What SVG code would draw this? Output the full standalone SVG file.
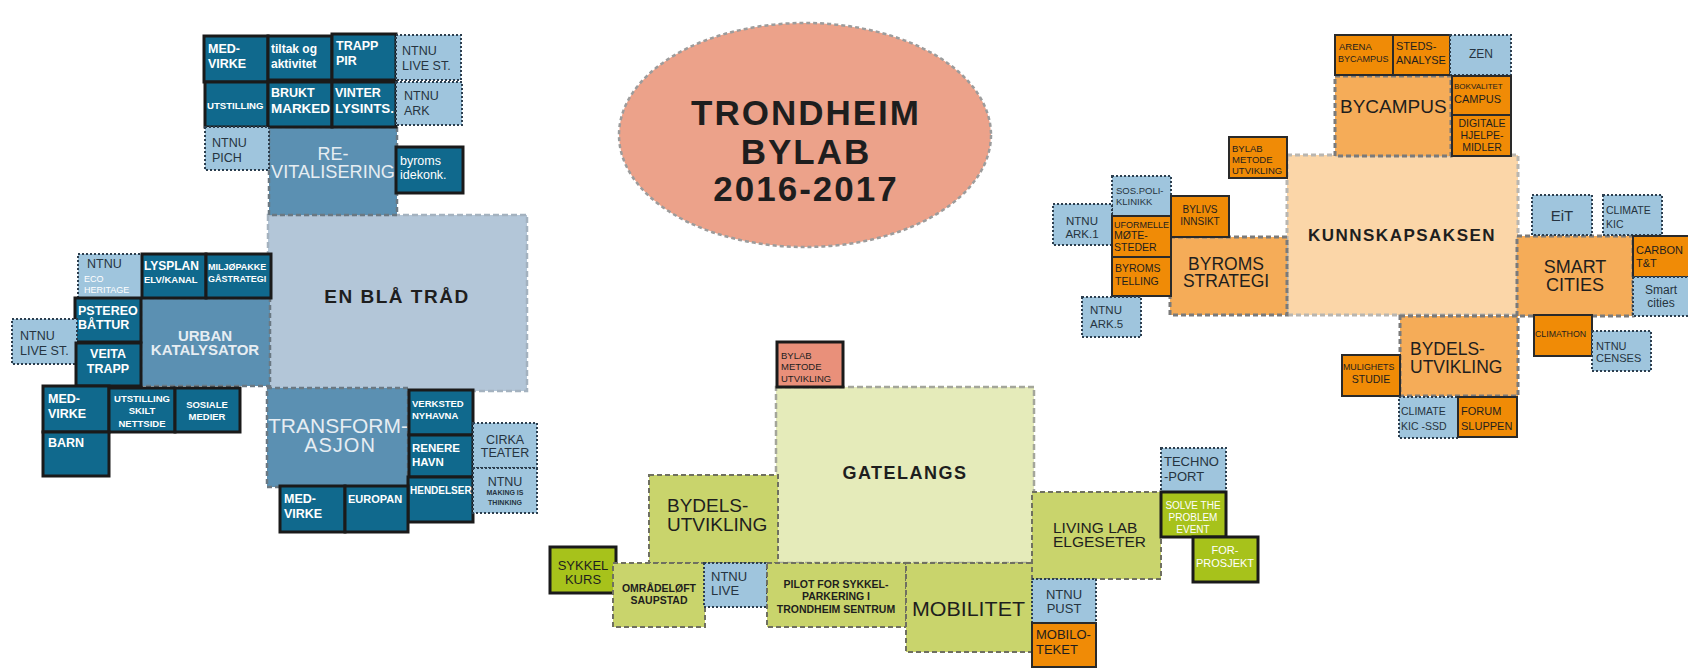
<svg xmlns="http://www.w3.org/2000/svg" width="1688" height="668" viewBox="0 0 1688 668">
<style>
text{font-family:"Liberation Sans",Arial,sans-serif;fill:#263440}
.w{fill:#ffffff}
.wm{fill:#e6edf2}
.k{fill:#1e1e1e}
.b{font-weight:700}
.c{text-anchor:middle}
.dk{fill:#10698d;stroke:#1a1a1a;stroke-width:3}
.lb{fill:#9fc5dd;stroke:#2c3e4e;stroke-width:2;stroke-dasharray:2 2}
.mb{fill:#5b90b2;stroke:#6a7882;stroke-width:2.5;stroke-dasharray:5 3}
.xb{fill:#b3c6d8;stroke:#a4b2bf;stroke-width:2.5;stroke-dasharray:6 3}
.gp{fill:#e5ebba;stroke:#a4a69a;stroke-width:2.5;stroke-dasharray:6 3}
.gm{fill:#c9d46c;stroke:#6f7060;stroke-width:2;stroke-dasharray:5 3}
.gb{fill:#a7c21b;stroke:#1a1a1a;stroke-width:3}
.os{fill:#f08b06;stroke:#2a2a2a;stroke-width:2}
.om{fill:#f5ac58;stroke:#7a7a7a;stroke-width:3;stroke-dasharray:5 3}
.op{fill:#fbd6a8;stroke:#b9b6b0;stroke-width:3;stroke-dasharray:5 3}
.sb{fill:#e9907a;stroke:#1a1a1a;stroke-width:3}
</style>

<g id="connectors"></g>

<!-- centre title -->
<g id="n-title">
<ellipse cx="805" cy="135" rx="186" ry="112" fill="#eca28a" stroke="#9c9c9c" stroke-width="2.5" stroke-dasharray="4 3"/>
<text class="c b k" x="806" y="125" font-size="35" letter-spacing="2">TRONDHEIM</text>
<text class="c b k" x="806" y="164" font-size="35" letter-spacing="2">BYLAB</text>
<text class="c b k" x="806" y="201" font-size="35" letter-spacing="2">2016-2017</text>
</g>

<!-- LEFT BLUE CLUSTER -->
<g id="n-enblatrad"><rect class="xb" x="268" y="215" width="259" height="176"/>
<text class="c b k" x="397" y="303" font-size="19" letter-spacing="1.5">EN BLÅ TRÅD</text></g>
<g id="n-revitalisering"><rect class="mb" x="269" y="127" width="128" height="88"/>
<text class="c wm" x="333" y="160" font-size="18">RE-</text>
<text class="c wm" x="333" y="178" font-size="18" textLength="124" lengthAdjust="spacingAndGlyphs">VITALISERING</text></g>
<g id="n-urban"><rect class="mb" x="141" y="298" width="129" height="88"/>
<text class="c b wm" x="205" y="341" font-size="15">URBAN</text>
<text class="c b wm" x="205" y="355" font-size="15">KATALYSATOR</text></g>
<g id="n-transform"><rect class="mb" x="267" y="388" width="141" height="99"/>
<text class="c wm" x="338" y="433" font-size="20" textLength="140" lengthAdjust="spacingAndGlyphs">TRANSFORM-</text>
<text class="c wm" x="340" y="452" font-size="20" letter-spacing="1">ASJON</text></g>

<g id="n-medvirke1"><rect class="dk" x="204" y="36" width="64" height="46"/>
<text class="b w" x="208" y="53" font-size="12.5">MED-</text><text class="b w" x="208" y="68" font-size="12.5">VIRKE</text></g>
<g id="n-tiltak"><rect class="dk" x="268" y="36" width="64" height="44"/>
<text class="b w" x="271" y="53" font-size="12">tiltak og</text><text class="b w" x="271" y="68" font-size="12">aktivitet</text></g>
<g id="n-trapppir"><rect class="dk" x="332" y="34" width="64" height="46"/>
<text class="b w" x="336" y="50" font-size="12.5">TRAPP</text><text class="b w" x="336" y="65" font-size="12.5">PIR</text></g>
<g id="n-ntnulive1"><rect class="lb" x="396" y="35" width="65" height="45"/>
<text x="402" y="55" font-size="12.5">NTNU</text><text x="402" y="70" font-size="12.5">LIVE ST.</text></g>
<g id="n-utstilling1"><rect class="dk" x="205" y="82" width="63" height="45"/>
<text class="b w" x="207" y="109" font-size="9.6">UTSTILLING</text></g>
<g id="n-brukt"><rect class="dk" x="268" y="82" width="64" height="45"/>
<text class="b w" x="271" y="97" font-size="12.5">BRUKT</text><text class="b w" x="271" y="113" font-size="12.5" textLength="59" lengthAdjust="spacingAndGlyphs">MARKED</text></g>
<g id="n-vinter"><rect class="dk" x="332" y="82" width="64" height="45"/>
<text class="b w" x="335" y="97" font-size="12.5">VINTER</text><text class="b w" x="335" y="113" font-size="12.5" textLength="59" lengthAdjust="spacingAndGlyphs">LYSINTS.</text></g>
<g id="n-ntnuark"><rect class="lb" x="396" y="82" width="66" height="43"/>
<text x="404" y="100" font-size="12.5">NTNU</text><text x="404" y="115" font-size="12.5">ARK</text></g>
<g id="n-ntnupich"><rect class="lb" x="205" y="127" width="64" height="43"/>
<text x="212" y="147" font-size="12.5">NTNU</text><text x="212" y="162" font-size="12.5">PICH</text></g>
<g id="n-byroms"><rect class="dk" x="396" y="147" width="67" height="46"/>
<text class="w" x="400" y="165" font-size="12.5">byroms</text><text class="w" x="400" y="179" font-size="12.5">idekonk.</text></g>

<g id="n-ntnueco"><rect class="lb" x="78" y="254" width="64" height="44"/>
<text x="87" y="268" font-size="12.5">NTNU</text>
<text class="w" x="84" y="282" font-size="9">ECO</text><text class="w" x="84" y="293" font-size="9">HERITAGE</text></g>
<g id="n-lysplan"><rect class="dk" x="142" y="254" width="64" height="44"/>
<text class="b w" x="144" y="270" font-size="12">LYSPLAN</text><text class="b w" x="144" y="283" font-size="9.5">ELV/KANAL</text></g>
<g id="n-miljo"><rect class="dk" x="206" y="254" width="65" height="44"/>
<text class="b w" x="208" y="270" font-size="9">MILJØPAKKE</text><text class="b w" x="208" y="282" font-size="9">GÅSTRATEGI</text></g>
<g id="n-pstereo"><rect class="dk" x="75" y="298" width="66" height="44"/>
<text class="b w" x="78" y="315" font-size="12.5">PSTEREO</text><text class="b w" x="78" y="329" font-size="12.5">BÅTTUR</text></g>
<g id="n-ntnulive2"><rect class="lb" x="12" y="319" width="65" height="45"/>
<text x="20" y="340" font-size="12.5">NTNU</text><text x="20" y="355" font-size="12.5">LIVE ST.</text></g>
<g id="n-veita"><rect class="dk" x="76" y="343" width="65" height="43"/>
<text class="c b w" x="108" y="358" font-size="12.5">VEITA</text><text class="c b w" x="108" y="373" font-size="12.5">TRAPP</text></g>
<g id="n-medvirke2"><rect class="dk" x="43" y="386" width="66" height="46"/>
<text class="b w" x="48" y="403" font-size="12.5">MED-</text><text class="b w" x="48" y="418" font-size="12.5">VIRKE</text></g>
<g id="n-utstilling2"><rect class="dk" x="109" y="388" width="66" height="44"/>
<text class="c b w" x="142" y="402" font-size="9.5">UTSTILLING</text><text class="c b w" x="142" y="414" font-size="9.5">SKILT</text><text class="c b w" x="142" y="427" font-size="9.5">NETTSIDE</text></g>
<g id="n-sosiale"><rect class="dk" x="175" y="388" width="65" height="44"/>
<text class="c b w" x="207" y="408" font-size="9.5">SOSIALE</text><text class="c b w" x="207" y="420" font-size="9.5">MEDIER</text></g>
<g id="n-barn"><rect class="dk" x="43" y="432" width="66" height="44"/>
<text class="b w" x="48" y="447" font-size="12.5">BARN</text></g>

<g id="n-verksted"><rect class="dk" x="409" y="390" width="64" height="45"/>
<text class="b w" x="412" y="407" font-size="9.5">VERKSTED</text><text class="b w" x="412" y="419" font-size="9.5">NYHAVNA</text></g>
<g id="n-renere"><rect class="dk" x="409" y="435" width="64" height="42"/>
<text class="b w" x="412" y="452" font-size="11.5">RENERE</text><text class="b w" x="412" y="466" font-size="11.5">HAVN</text></g>
<g id="n-hendelser"><rect class="dk" x="408" y="477" width="65" height="45"/>
<text class="b w" x="410" y="494" font-size="10">HENDELSER</text></g>
<g id="n-cirka"><rect class="lb" x="473" y="423" width="64" height="45"/>
<text class="c" x="505" y="444" font-size="12.5">CIRKA</text><text class="c" x="505" y="457" font-size="12.5">TEATER</text></g>
<g id="n-making"><rect class="lb" x="473" y="468" width="64" height="45"/>
<text class="c" x="505" y="486" font-size="12.5">NTNU</text><text class="c b" x="505" y="495" font-size="7">MAKING IS</text><text class="c b" x="505" y="505" font-size="7">THINKING</text></g>
<g id="n-medvirke3"><rect class="dk" x="280" y="486" width="65" height="46"/>
<text class="b w" x="284" y="503" font-size="12.5">MED-</text><text class="b w" x="284" y="518" font-size="12.5">VIRKE</text></g>
<g id="n-europan"><rect class="dk" x="345" y="486" width="63" height="46"/>
<text class="b w" x="348" y="503" font-size="11">EUROPAN</text></g>

<!-- GREEN CLUSTER -->
<g id="n-gatelangs"><rect class="gp" x="776" y="387" width="258" height="176"/>
<text class="c b k" x="905" y="479" font-size="18" letter-spacing="1.5">GATELANGS</text></g>
<g id="n-bylab1"><rect class="sb" x="777" y="342" width="66" height="45"/>
<text class="k" x="781" y="359" font-size="9.5">BYLAB</text><text class="k" x="781" y="370" font-size="9.5">METODE</text><text class="k" x="781" y="382" font-size="9.5">UTVIKLING</text></g>
<g id="n-bydels1"><rect class="gm" x="649" y="475" width="129" height="88"/>
<text class="k" x="667" y="512" font-size="19">BYDELS-</text><text class="k" x="667" y="531" font-size="19">UTVIKLING</text></g>
<g id="n-sykkel"><rect class="gb" x="550" y="547" width="66" height="46"/>
<text class="c k" x="583" y="570" font-size="13">SYKKEL</text><text class="c k" x="583" y="584" font-size="13">KURS</text></g>
<g id="n-omrade"><rect class="gm" x="613" y="563" width="92" height="64"/>
<text class="c b k" x="659" y="592" font-size="10.5">OMRÅDELØFT</text><text class="c b k" x="659" y="604" font-size="10.5">SAUPSTAD</text></g>
<g id="n-ntnulive3"><rect class="lb" x="704" y="563" width="63" height="44"/>
<text x="711" y="581" font-size="13">NTNU</text><text x="711" y="595" font-size="13">LIVE</text></g>
<g id="n-pilot"><rect class="gm" x="767" y="563" width="139" height="64"/>
<text class="c b k" x="836" y="588" font-size="10.5">PILOT FOR SYKKEL-</text><text class="c b k" x="836" y="600" font-size="10.5">PARKERING I</text><text class="c b k" x="836" y="613" font-size="10.5">TRONDHEIM SENTRUM</text></g>
<g id="n-mobilitet"><rect class="gm" x="906" y="563" width="127" height="89"/>
<text class="k" x="912" y="616" font-size="20" textLength="113" lengthAdjust="spacingAndGlyphs">MOBILITET</text></g>
<g id="n-livinglab"><rect class="gm" x="1032" y="492" width="129" height="87"/>
<text class="k" x="1053" y="533" font-size="15.5">LIVING LAB</text><text class="k" x="1053" y="547" font-size="15.5">ELGESETER</text></g>
<g id="n-techno"><rect class="lb" x="1161" y="448" width="65" height="44"/>
<text x="1164" y="466" font-size="13">TECHNO</text><text x="1164" y="481" font-size="13">-PORT</text></g>
<g id="n-solve"><rect class="gb" x="1161" y="492" width="65" height="45"/>
<text class="c w" x="1193" y="509" font-size="10">SOLVE THE</text><text class="c w" x="1193" y="521" font-size="10">PROBLEM</text><text class="c w" x="1193" y="533" font-size="10">EVENT</text></g>
<g id="n-forprosjekt"><rect class="gb" x="1193" y="537" width="65" height="45"/>
<text class="c w" x="1225" y="554" font-size="11">FOR-</text><text class="c w" x="1225" y="567" font-size="11">PROSJEKT</text></g>
<g id="n-ntnupust"><rect class="lb" x="1032" y="579" width="64" height="44"/>
<text class="c" x="1064" y="599" font-size="13">NTNU</text><text class="c" x="1064" y="613" font-size="13">PUST</text></g>
<g id="n-mobiloteket"><rect class="os" x="1032" y="623" width="64" height="44"/>
<text class="k" x="1036" y="639" font-size="13">MOBILO-</text><text class="k" x="1036" y="654" font-size="13">TEKET</text></g>

<!-- ORANGE CLUSTER -->
<g id="n-kunnskap"><rect class="op" x="1287" y="155" width="231" height="160"/>
<text class="c b k" x="1402" y="241" font-size="17" letter-spacing="1.5">KUNNSKAPSAKSEN</text></g>
<g id="n-bycampus"><rect class="om" x="1335" y="76" width="116" height="80"/>
<text class="k" x="1340" y="113" font-size="19">BYCAMPUS</text></g>
<g id="n-arena"><rect class="os" x="1335" y="35" width="58" height="40"/>
<text class="k" x="1339" y="50" font-size="9.5">ARENA</text><text class="k" x="1338" y="62" font-size="9">BYCAMPUS</text></g>
<g id="n-steds"><rect class="os" x="1393" y="35" width="57" height="40"/>
<text class="k" x="1396" y="50" font-size="11">STEDS-</text><text class="k" x="1396" y="64" font-size="11">ANALYSE</text></g>
<g id="n-zen"><rect class="lb" x="1450" y="35" width="61" height="40"/>
<text class="c" x="1481" y="58" font-size="12">ZEN</text></g>
<g id="n-bokvalitet"><rect class="os" x="1452" y="76" width="59" height="39"/>
<text class="k" x="1454" y="89" font-size="8">BOKVALITET</text><text class="k" x="1454" y="103" font-size="11">CAMPUS</text></g>
<g id="n-digitale"><rect class="os" x="1452" y="115" width="59" height="41"/>
<text class="c k" x="1482" y="127" font-size="10.5">DIGITALE</text><text class="c k" x="1482" y="139" font-size="10.5">HJELPE-</text><text class="c k" x="1482" y="151" font-size="10.5">MIDLER</text></g>
<g id="n-bylab2"><rect class="os" x="1229" y="137" width="58" height="41"/>
<text class="k" x="1232" y="152" font-size="9.5">BYLAB</text><text class="k" x="1232" y="163" font-size="9.5">METODE</text><text class="k" x="1232" y="174" font-size="9.5">UTVIKLING</text></g>
<g id="n-byromsstrategi"><rect class="om" x="1170" y="237" width="117" height="78"/>
<text class="c k" x="1226" y="270" font-size="17.5">BYROMS</text><text class="c k" x="1226" y="287" font-size="17.5">STRATEGI</text></g>
<g id="n-sospoli"><rect class="lb" x="1112" y="176" width="59" height="40"/>
<text x="1116" y="194" font-size="9.5">SOS.POLI-</text><text x="1116" y="205" font-size="9.5">KLINIKK</text></g>
<g id="n-ntnuark1"><rect class="lb" x="1053" y="204" width="59" height="41"/>
<text class="c" x="1082" y="225" font-size="11.5">NTNU</text><text class="c" x="1082" y="238" font-size="11.5">ARK.1</text></g>
<g id="n-bylivs"><rect class="os" x="1171" y="196" width="58" height="41"/>
<text class="c k" x="1200" y="213" font-size="10">BYLIVS</text><text class="c k" x="1200" y="225" font-size="10">INNSIKT</text></g>
<g id="n-uformelle"><rect class="os" x="1112" y="216" width="59" height="41"/>
<text class="k" x="1114" y="228" font-size="9">UFORMELLE</text><text class="k" x="1114" y="239" font-size="10.5">MØTE-</text><text class="k" x="1114" y="251" font-size="10.5">STEDER</text></g>
<g id="n-byromstelling"><rect class="os" x="1112" y="257" width="59" height="39"/>
<text class="k" x="1115" y="272" font-size="10.5">BYROMS</text><text class="k" x="1115" y="285" font-size="10.5">TELLING</text></g>
<g id="n-ntnuark5"><rect class="lb" x="1082" y="297" width="59" height="40"/>
<text x="1090" y="314" font-size="11.5">NTNU</text><text x="1090" y="328" font-size="11.5">ARK.5</text></g>
<g id="n-smartcities"><rect class="om" x="1517" y="236" width="116" height="80"/>
<text class="c k" x="1575" y="273" font-size="18">SMART</text><text class="c k" x="1575" y="291" font-size="18">CITIES</text></g>
<g id="n-eit"><rect class="lb" x="1532" y="195" width="60" height="40"/>
<text class="c" x="1562" y="221" font-size="15">EiT</text></g>
<g id="n-climatekic"><rect class="lb" x="1603" y="195" width="59" height="40"/>
<text x="1606" y="214" font-size="10.5">CLIMATE</text><text x="1606" y="228" font-size="10.5">KIC</text></g>
<g id="n-carbon"><rect class="os" x="1633" y="236" width="56" height="41"/>
<text class="k" x="1636" y="254" font-size="11">CARBON</text><text class="k" x="1636" y="267" font-size="11">T&amp;T</text></g>
<g id="n-smartcities2"><rect class="lb" x="1633" y="277" width="56" height="39"/>
<text class="c" x="1661" y="294" font-size="12">Smart</text><text class="c" x="1661" y="307" font-size="12">cities</text></g>
<g id="n-climathon"><rect class="os" x="1534" y="315" width="58" height="41"/>
<text class="k" x="1535" y="337" font-size="8.8">CLIMATHON</text></g>
<g id="n-censes"><rect class="lb" x="1592" y="331" width="59" height="40"/>
<text x="1596" y="350" font-size="11">NTNU</text><text x="1596" y="362" font-size="11">CENSES</text></g>
<g id="n-bydels2"><rect class="om" x="1400" y="316" width="118" height="80"/>
<text class="k" x="1410" y="355" font-size="17.5">BYDELS-</text><text class="k" x="1410" y="373" font-size="17.5">UTVIKLING</text></g>
<g id="n-mulighets"><rect class="os" x="1342" y="355" width="58" height="41"/>
<text class="k" x="1343" y="370" font-size="8.8">MULIGHETS</text><text class="c k" x="1371" y="383" font-size="10.5">STUDIE</text></g>
<g id="n-climatessd"><rect class="lb" x="1399" y="397" width="59" height="41"/>
<text x="1401" y="415" font-size="10.5">CLIMATE</text><text x="1401" y="430" font-size="10.5">KIC -SSD</text></g>
<g id="n-forum"><rect class="os" x="1458" y="397" width="59" height="40"/>
<text class="k" x="1461" y="415" font-size="11">FORUM</text><text class="k" x="1461" y="430" font-size="11">SLUPPEN</text></g>
</svg>
